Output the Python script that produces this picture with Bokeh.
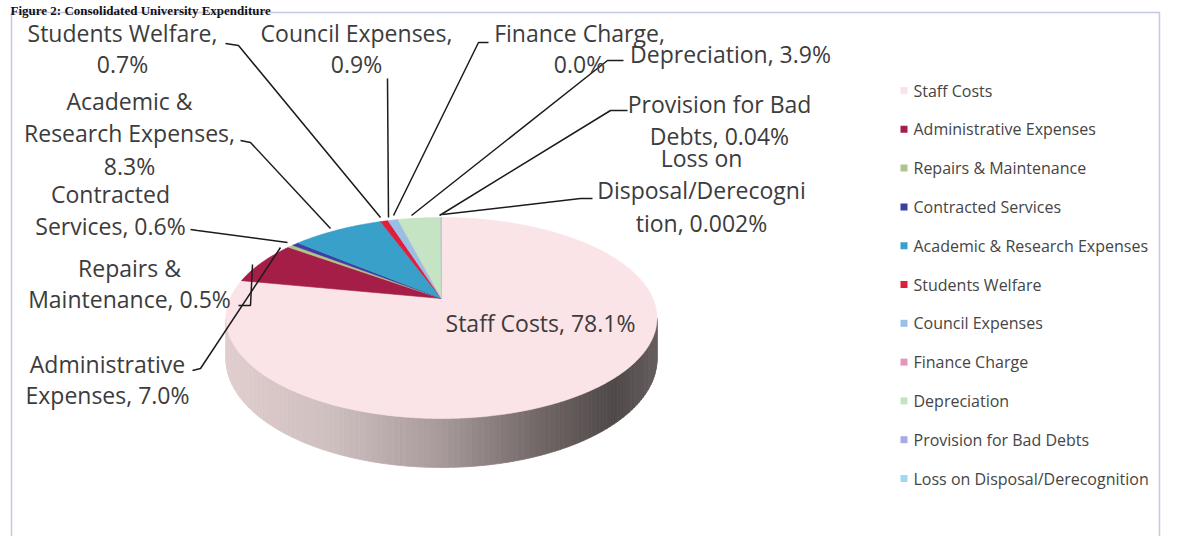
import numpy as np
from bokeh.plotting import figure
from bokeh.models import Range1d, ColumnDataSource
from bokeh.core.properties import value
from bokeh.embed import file_html
from bokeh.resources import INLINE

# ---------------- data ----------------
title_text = "Figure 2: Consolidated University Expenditure"
categories = ["Staff Costs", "Administrative Expenses", "Repairs & Maintenance",
              "Contracted Services", "Academic & Research Expenses", "Students Welfare",
              "Council Expenses", "Finance Charge", "Depreciation",
              "Provision for Bad Debts", "Loss on Disposal/Derecognition"]
shares = [78.1, 7.0, 0.5, 0.6, 8.3, 0.7, 0.9, 0.0, 3.9, 0.04, 0.002]
share_labels = ["78.1%", "7.0%", "0.5%", "0.6%", "8.3%", "0.7%", "0.9%", "0.0%",
                "3.9%", "0.04%", "0.002%"]
# data-label text as wrapped in the original
label_lines = [
    ["Staff Costs, 78.1%"],
    ["Administrative", "Expenses, 7.0%"],
    ["Repairs &", "Maintenance, 0.5%"],
    ["Contracted", "Services, 0.6%"],
    ["Academic &", "Research Expenses,", "8.3%"],
    ["Students Welfare,", "0.7%"],
    ["Council Expenses,", "0.9%"],
    ["Finance Charge,", "0.0%"],
    ["Depreciation, 3.9%"],
    ["Provision for Bad", "Debts, 0.04%"],
    ["Loss on", "Disposal/Derecogni", "tion, 0.002%"],
]

# ---------------- styles / layout ----------------
colors = ["#fbe4e7", "#a51e48", "#b3c48a", "#3d3ea2", "#39a0c9", "#e01e3c",
          "#98c0e6", "#e696be", "#c4e4c4", "#aaaae2", "#a0d8f0"]
W, H = 1161, 536
FONT = "Open Sans"
TXT = "#3c3c3c"

# label block positions (centre x, first line y, line step)
label_pos = [
    (540, 322, 32), (107, 363, 31), (129, 267, 31), (110, 193, 32),
    (129, 100, 32.5), (122, 32, 31), (356, 32, 31), (579, 32, 31),
    (730, 53, 32), (719, 103, 32), (701, 157, 32.5),
]
# leader lines (label anchor -> slice)
leaders = [
    None,
    [(192, 370), (200, 368), (280, 247)],
    [(238, 305), (250, 305), (252, 264)],
    [(190, 229), (197, 230), (287, 242)],
    [(240, 140), (250, 142), (330, 228)],
    [(225, 43), (238, 45), (380, 217)],
    [(387, 78), (388, 217)],
    [(488, 42), (478, 42), (393, 215)],
    [(623, 60), (607, 60), (411, 215)],
    [(627, 110), (610, 110), (439, 215)],
    [(592, 198), (580, 198), (442, 214)],
]

# pie projection (perspective ellipse)
CX, AY = 441.0, 298.0
KX, KY, PR, DEPTH = 211.4, 96.7, 0.194, 39.5


def proj(a_deg):
    a = np.radians(a_deg)
    s = 1.0 + PR * np.cos(a)
    x = CX + KX * np.sin(a) / s
    y = AY - KY * np.cos(a) / s
    yb = y + DEPTH / s
    return x, y, yb


p = figure(width=W, height=H, output_backend="svg", toolbar_location=None,
           x_range=Range1d(0, W), y_range=Range1d(H, 0),
           x_axis_location=None, y_axis_location=None, min_border=0,
           background_fill_color="white", border_fill_color="white")
p.grid.visible = False
p.outline_line_color = None

# chart box
p.multi_line(xs=[[11, 11, 1159, 1159]], ys=[[536, 12, 12, 536]],
             line_color="#c4c8e6", line_width=1.5)

# title
p.text(x=[10], y=[10], text=[title_text], text_font=value("Liberation Serif"),
       text_font_style="bold", text_font_size="13px", text_color="#111111",
       text_baseline="alphabetic")

# ---- side of the pie (front wall, shaded) ----
a1 = np.degrees(np.arccos(-PR))
a2 = 360 - a1
N = 120
edges = np.linspace(a1, a2, N + 1)
xl, _, _ = proj(a2)
xr, _, _ = proj(a1)
cu = [0.0, 0.25, 0.5, 0.72, 0.9, 1.0]
cr = [226, 206, 168, 115, 80, 102]
cg = [206, 191, 154, 105, 73, 94]
side_xs, side_ys, side_c = [], [], []
for i in range(N):
    aa = np.linspace(edges[i], edges[i + 1], 4)
    xx, yt, yb = proj(aa)
    side_xs.append(list(xx) + list(xx[::-1]))
    side_ys.append(list(yb) + list(yt[::-1]))
    u = (np.mean(xx) - xl) / (xr - xl)
    rr = np.interp(u, cu, cr)
    gg = np.interp(u, cu, cg)
    side_c.append("#%02x%02x%02x" % (int(rr), int(gg), int(gg)))
p.patches(xs=side_xs, ys=side_ys, fill_color=side_c, line_color=side_c, line_width=0.8)

# ---- top faces of the slices ----
total = float(sum(shares))
start = 0.0
top_xs, top_ys = [], []
for v in shares:
    ang = 360.0 * v / total
    aa = np.linspace(start, start + ang, max(3, int(ang * 2) + 2))
    xx, yy, _ = proj(aa)
    top_xs.append([CX] + list(xx))
    top_ys.append([AY] + list(yy))
    start += ang
src = ColumnDataSource(dict(xs=top_xs, ys=top_ys, c=colors, name=categories))
p.patches(xs="xs", ys="ys", fill_color="c", line_color="c", line_width=0.6, source=src)

# ---- leader lines ----
lx = [[q[0] for q in L] for L in leaders if L]
ly = [[q[1] for q in L] for L in leaders if L]
p.multi_line(xs=lx, ys=ly, line_color="#1c1c1c", line_width=1.5)

# ---- data labels ----
tx, ty, tt = [], [], []
for (cx, y0, step), lines in zip(label_pos, label_lines):
    for k, s in enumerate(lines):
        tx.append(cx)
        ty.append(y0 + k * step)
        tt.append(s)
p.text(x=tx, y=ty, text=tt, text_font=value(FONT), text_font_size="23px",
       text_color=TXT, text_align="center", text_baseline="middle")

# ---- legend ----
ly0, lstep = 90, 38.8
rows = [ly0 + i * lstep for i in range(len(categories))]
p.rect(x=[903.5] * len(categories), y=rows, width=7, height=7, fill_color=colors,
       line_color=None)
p.text(x=[913] * len(categories), y=rows, text=categories, text_font=value(FONT),
       text_font_size="16px", text_color="#454545", text_align="left",
       text_baseline="middle")

open("out.html", "w").write(file_html(p, INLINE))
